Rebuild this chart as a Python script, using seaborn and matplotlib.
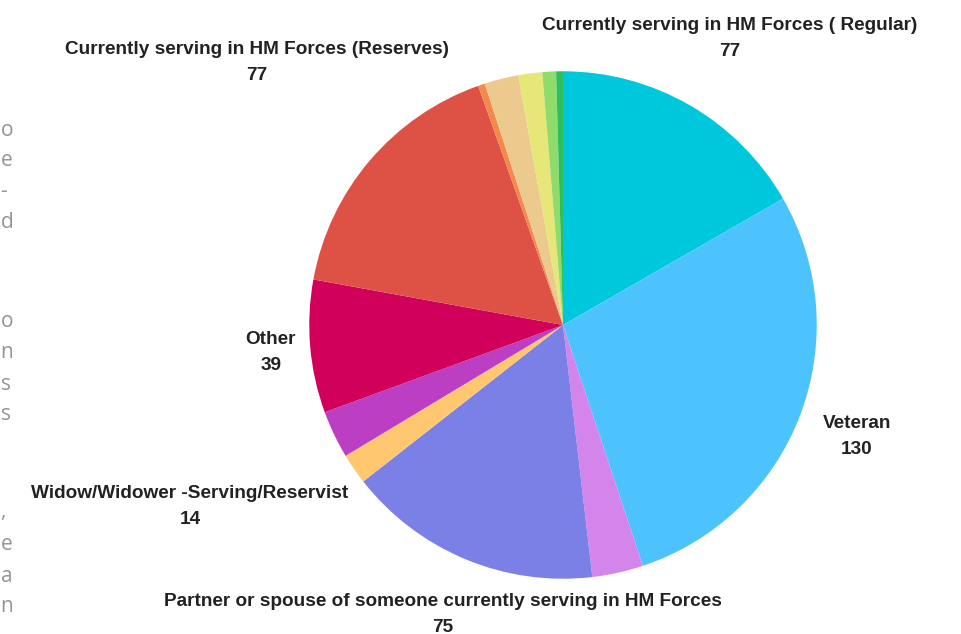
import matplotlib
matplotlib.use("Agg")
import matplotlib.pyplot as plt
import seaborn as sns

sns.set_theme(style="white")
plt.rcParams["font.family"] = ["Liberation Sans", "DejaVu Sans"]

# Respondent groups, clockwise from 12 o'clock
categories = [
    "Currently serving in HM Forces ( Regular)",
    "Veteran",
    "Family member of a veteran",
    "Partner or spouse of someone currently serving in HM Forces",
    "Child of someone serving",
    "Widow/Widower -Serving/Reservist",
    "Other",
    "Currently serving in HM Forces (Reserves)",
    "Prefer not to say",
    "Widow/Widower -Veteran",
    "Civil servant",
    "Cadet force adult volunteer",
    "Employer",
]
counts = [77, 130, 15, 75, 9, 14, 39, 77, 2, 10, 7, 4, 2]
colors = [
    "#00C8DC", "#4DC3FE", "#D385EC", "#7B80E6", "#FFC870", "#BC3EC3",
    "#D1005A", "#DE5145", "#F5884B", "#ECC98D", "#E6E679", "#8FDB6B", "#2DBE5D",
]

# Which slices carry a label, and where the label sits (pixels from top-left)
labelled = {
    0: (730, 25),
    1: (857, 423),
    3: (443, 601),
    5: (190, 493),
    6: (271, 339),
    7: (257, 50),
}

W, H = 962, 634
fig = plt.figure(figsize=(W / 100, H / 100), dpi=100)
fig.patch.set_facecolor("white")

cx, cy, r = 563, 325, 255
ax = fig.add_axes([(cx - r) / W, (H - cy - r) / H, 2 * r / W, 2 * r / H])
ax.pie(
    counts,
    colors=colors,
    startangle=90,
    counterclock=False,
    radius=1.0,
    wedgeprops=dict(linewidth=0),
)
ax.set_xlim(-1.005, 1.005)
ax.set_ylim(-1.005, 1.005)
ax.set_axis_off()

for i, (px, py) in labelled.items():
    fig.text(px / W, 1 - py / H, categories[i], ha="center", va="center",
             fontsize=13.7, fontweight="bold", color="#222222")
    fig.text(px / W, 1 - (py + 26) / H, str(counts[i]), ha="center", va="center",
             fontsize=13.7, fontweight="bold", color="#222222")

# Ends of page text running in from the left margin
margin_chars = [
    ("o", 130), ("e", 161), ("-", 192), ("d", 222),
    ("o", 322), ("n", 353), ("s", 384), ("s", 415),
    (",", 512), ("e", 545), ("a", 576), ("n", 607),
]
for ch, py in margin_chars:
    fig.text(0.5 / W, 1 - py / H, ch, ha="left", va="center",
             fontsize=15, color="#949494", family=["Open Sans", "DejaVu Sans"])

fig.savefig("out.png", dpi=100, facecolor="white")
